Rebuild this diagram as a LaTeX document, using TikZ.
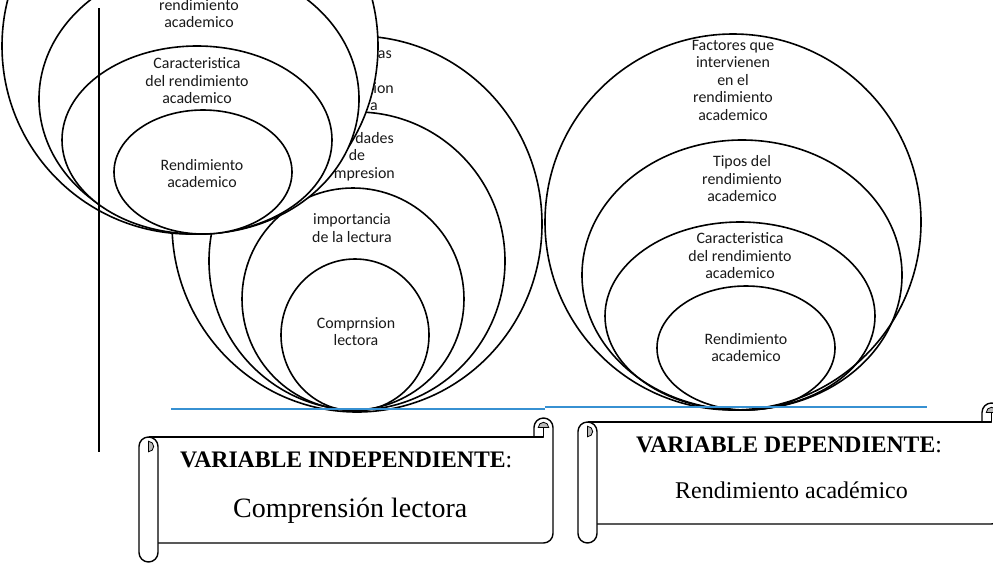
\documentclass[tikz,border=0pt]{standalone}
\usepackage{fontspec}
\setmainfont{Liberation Serif}[BoldFont={Liberation Serif Bold}]
\newfontfamily\carl{Carlito}
\definecolor{blueline}{RGB}{55,145,210}
\newcommand\drawscroll[5]{%
  \pgfmathsetmacro\scL{#1}\pgfmathsetmacro\scT{#2}\pgfmathsetmacro\scR{#3}%
  \pgfmathsetmacro\scB{#4}\pgfmathsetmacro\scC{#5}\pgfmathsetmacro\scH{#5/2}%
  % body with top-right roll
  \draw[sc] (\scL+\scH,\scT+\scC) -- (\scR-\scH,\scT+\scC) -- (\scR-\scH,\scT+\scH);
  \draw[sc] (\scR-\scC,\scT+\scC) -- (\scR-\scC,\scT+\scH)
     arc[start angle=180,end angle=0,radius={\scH pt}]
     -- (\scR,\scB-\scC-\scH)
     arc[start angle=0,end angle=-90,radius={\scH pt}]
     -- (\scL+\scC,\scB-\scC);
  \filldraw[fill=gray!55,line width=0.8pt] (\scR-\scH-0.55*\scH,\scT+\scH)
     arc[start angle=180,end angle=0,radius={0.55*\scH pt}] -- cycle;
  % left tube
  \draw[sc,fill=white] (\scL,\scT+\scC+\scH) -- (\scL,\scB-\scH)
     arc[start angle=180,end angle=360,radius={\scH pt}]
     -- (\scL+\scC,\scT+\scC+\scH)
     arc[start angle=0,end angle=180,radius={\scH pt}] -- cycle;
  \filldraw[fill=gray!55,line width=0.8pt] (\scL+\scH,\scT+\scC+\scH-0.55*\scH)
     arc[start angle=90,end angle=-90,radius={0.55*\scH pt}] -- cycle;
}
\begin{document}
\begin{tikzpicture}[x=1pt,y=-1pt,
  ring/.style={line width=1.6pt},
  wring/.style={line width=1.6pt,fill=white},
  lbl/.style={font=\carl\fontsize{15.9}{17.5}\selectfont,text=black!90,align=center,inner sep=0pt},
  sc/.style={line width=1.4pt,line join=round},
  head/.style={font=\fontsize{23.7}{26}\selectfont,inner sep=0pt,anchor=base west}]
\useasboundingbox (0,0) rectangle (993,563);
\clip (0,0) rectangle (993,563);

% ---------- middle group: comprension lectora ----------
\draw[ring] (357,224) ellipse [x radius=185pt,y radius=188pt];
\draw[ring] (357,261) ellipse [x radius=148pt,y radius=149pt];
\draw[ring] (353,299) ellipse [x radius=111pt,y radius=111pt];
\draw[ring] (355,335) ellipse [x radius=74pt,y radius=76pt];
\node[lbl,anchor=base east] (m1a) at (392,58) {as};
\node[lbl,anchor=base east] (m1b) at (394,93) {ion};
\node[lbl,anchor=base east] (m1c) at (378,110.5) {a};
\node[lbl,anchor=base east] (m2a) at (394,143) {dades};
\node[lbl,anchor=base] (m2b) at (357,160.5) {de};
\node[lbl,anchor=base east] (m2c) at (395,178) {mpresion};
\node[lbl] (m3) at (352,228) {importancia\\de la lectura};
\node[lbl] (m4) at (356,331.5) {Comprnsion\\lectora};

% ---------- right group: rendimiento academico ----------
\draw[ring] (733,222) ellipse [x radius=188pt,y radius=188pt];
\draw[ring] (742,275) ellipse [x radius=160pt,y radius=135pt];
\draw[ring] (740,316) ellipse [x radius=135pt,y radius=94pt];
\draw[ring] (746,348) ellipse [x radius=89pt,y radius=62pt];
\node[lbl] (r1) at (733,80) {Factores que\\intervienen\\en el\\rendimiento\\academico};
\node[lbl] (r2) at (742,179) {Tipos del\\rendimiento\\academico};
\node[lbl] (r3) at (740,256) {Caracteristica\\del rendimiento\\academico};
\node[lbl] (r4) at (746,347.5) {Rendimiento\\academico};

% ---------- blue baseline ----------
\draw[blueline,line width=2pt] (171,408.5) -- (545,408.5);
\draw[blueline,line width=2pt] (545,407) -- (927,407);

% ---------- left overlapping copy ----------
\draw[wring] (190,46) ellipse [x radius=188pt,y radius=188pt];
\draw[wring] (199,99) ellipse [x radius=160pt,y radius=135pt];
\draw[wring] (197,140) ellipse [x radius=135pt,y radius=94pt];
\draw[wring] (203,172) ellipse [x radius=89pt,y radius=62pt];
\node[lbl] (l2) at (199,13.5) {rendimiento\\academico};
\node[lbl] (l3) at (197,81) {Caracteristica\\del rendimiento\\academico};
\node[lbl] (l4) at (202,173.5) {Rendimiento\\academico};

% ---------- vertical rule ----------
\draw[line width=2pt] (98.5,8) -- (98.5,452);

% ---------- scrolls ----------
\drawscroll{139}{418}{553}{562}{19}
\drawscroll{578}{403}{1001}{543}{19}
\node[head] (vi) at (180,467) {\textbf{VARIABLE INDEPENDIENTE}:};
\node[inner sep=0pt,anchor=base west,font=\fontsize{28}{30}\selectfont] (cl) at (233,517) {Comprensión lectora};
\node[head] (vd) at (636,452) {\textbf{VARIABLE DEPENDIENTE}:};
\node[inner sep=0pt,anchor=base west,font=\fontsize{24}{26}\selectfont] (ra) at (675,498) {Rendimiento académico};
\end{tikzpicture}
\end{document}
